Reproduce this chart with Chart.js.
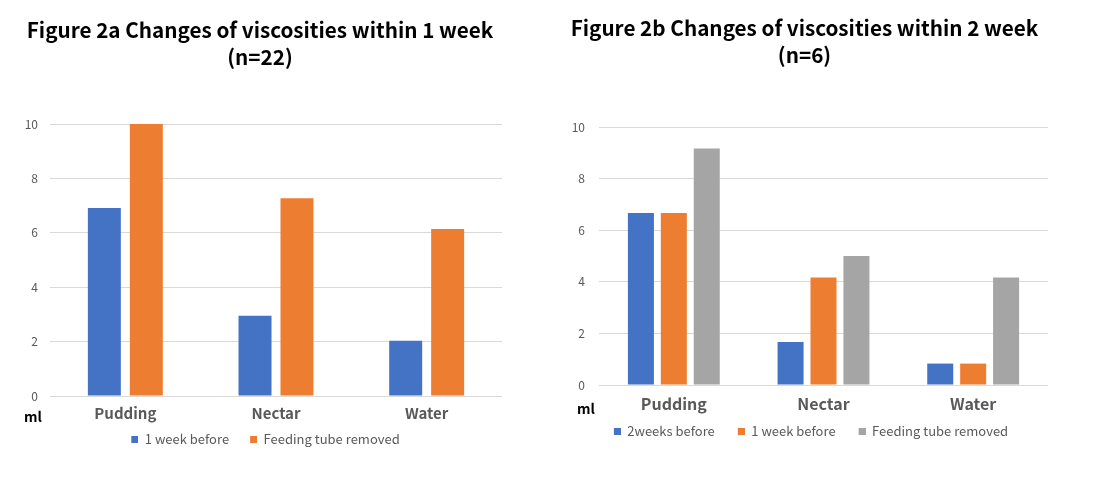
<!DOCTYPE html>
<html>
<head>
<meta charset="utf-8">
<script src="https://cdn.jsdelivr.net/npm/chart.js@4.4.1/dist/chart.umd.min.js"></script>
<style>
  body{margin:0;background:#fff;width:1112px;height:478px;position:relative;overflow:hidden;}
  .box{position:absolute;top:0;height:478px;}
</style>
</head>
<body>
<div class="box" style="left:0;width:520px"><canvas id="chartA"></canvas></div>
<div class="box" style="left:550px;width:510px"><canvas id="chartB"></canvas></div>
<script>
// categories and values
const categories = ['Pudding', 'Nectar', 'Water'];
const seriesA = ['1 week before', 'Feeding tube removed'];
const oneWeekA = [6.91, 2.95, 2.03];
const removedA = [10, 7.27, 6.14];
const seriesB = ['2weeks before', '1 week before', 'Feeding tube removed'];
const twoWeeksB = [6.67, 1.67, 0.83];
const oneWeekB = [6.67, 4.17, 0.83];
const removedB = [9.17, 5, 4.17];
const yTicks = [0, 2, 4, 6, 8, 10];
const colors = ['#4472C4', '#ED7D31', '#A5A5A5'];
const FONT = '"Noto Sans CJK SC", sans-serif';

// legend swatch: small square with empty room on its left (wider gap between items)
function swatch(color, lead){
  const c = document.createElement('canvas');
  c.width = lead + 7; c.height = 7;
  const g = c.getContext('2d');
  g.fillStyle = color;
  g.fillRect(lead, 0, 7, 7);
  return c;
}

// little "ml" unit under the y axis
const unitLabel = {
  id: 'unitLabel',
  afterDraw(chart, args, opts){
    const ctx = chart.ctx, a = chart.chartArea;
    ctx.save();
    ctx.font = 'bold 14px ' + FONT;
    ctx.fillStyle = '#000';
    ctx.textAlign = 'center';
    ctx.textBaseline = 'middle';
    ctx.fillText('ml', a.left + opts.dx, a.bottom + opts.dy);
    ctx.restore();
  }
};

function makeChart(id, title, names, values, c){
  const datasets = values.map((v, i) => ({
    label: names[i], data: v, backgroundColor: colors[i],
    categoryPercentage: c.catPct, barPercentage: c.barPct
  }));
  return new Chart(document.getElementById(id), {
    type: 'bar',
    data: { labels: categories, datasets },
    plugins: [unitLabel],
    options: {
      responsive: true, maintainAspectRatio: false, animation: false,
      layout: { padding: { top: c.top, left: c.left, right: c.right, bottom: c.bottom } },
      plugins: {
        title: { display: true, text: title, color: '#000',
          font: { family: FONT, size: 20.7, weight: 'bold', lineHeight: 1.305 },
          padding: { top: 0, bottom: c.titleGap } },
        legend: { position: 'bottom',
          labels: { usePointStyle: true, pointStyleWidth: c.lead + 7, boxHeight: 7,
            padding: 10, color: '#595959', font: { family: FONT, size: 13 },
            generateLabels: ch => ch.data.datasets.map((d, i) => ({
              text: d.label, fillStyle: d.backgroundColor, strokeStyle: d.backgroundColor,
              lineWidth: 0, pointStyle: swatch(d.backgroundColor, c.lead),
              fontColor: '#595959', hidden: false, datasetIndex: i })) } },
        tooltip: { enabled: false },
        unitLabel: c.unit
      },
      scales: {
        x: { grid: { display: false }, border: { display: false },
          afterFit: s => { s.height = c.xHeight; },
          ticks: { color: '#595959', padding: c.xPad, font: { family: FONT, size: c.xFont, weight: 'bold' } } },
        y: { min: 0, max: 10, afterBuildTicks: s => { s.ticks = yTicks.map(v => ({ value: v })); },
          afterFit: s => { s.width = c.yWidth; },
          grid: { color: '#d9d9d9', drawTicks: false }, border: { display: false },
          ticks: { color: '#595959', padding: c.yPad, font: { family: FONT, size: 12 } } }
      }
    }
  });
}

makeChart('chartA', ['Figure 2a Changes of viscosities within 1 week', '(n=22)'],
  seriesA, [oneWeekA, removedA],
  { catPct: 0.557, barPct: 0.786, top: 17, left: 18, right: 18, bottom: 22, titleGap: 53,
    xHeight: 27, xPad: 0, xFont: 15, yWidth: 32, yPad: 12, lead: 11, unit: { dx: -17, dy: 21 } });
makeChart('chartB', ['Figure 2b Changes of viscosities within 2 week', '(n=6)'],
  seriesB, [twoWeeksB, oneWeekB, removedB],
  { catPct: 0.66, barPct: 0.79, top: 15, left: 11, right: 12, bottom: 30, titleGap: 58,
    xHeight: 30, xPad: 1, xFont: 16, yWidth: 38, yPad: 14, lead: 13, unit: { dx: -13, dy: 24 } });
</script>
</body>
</html>
